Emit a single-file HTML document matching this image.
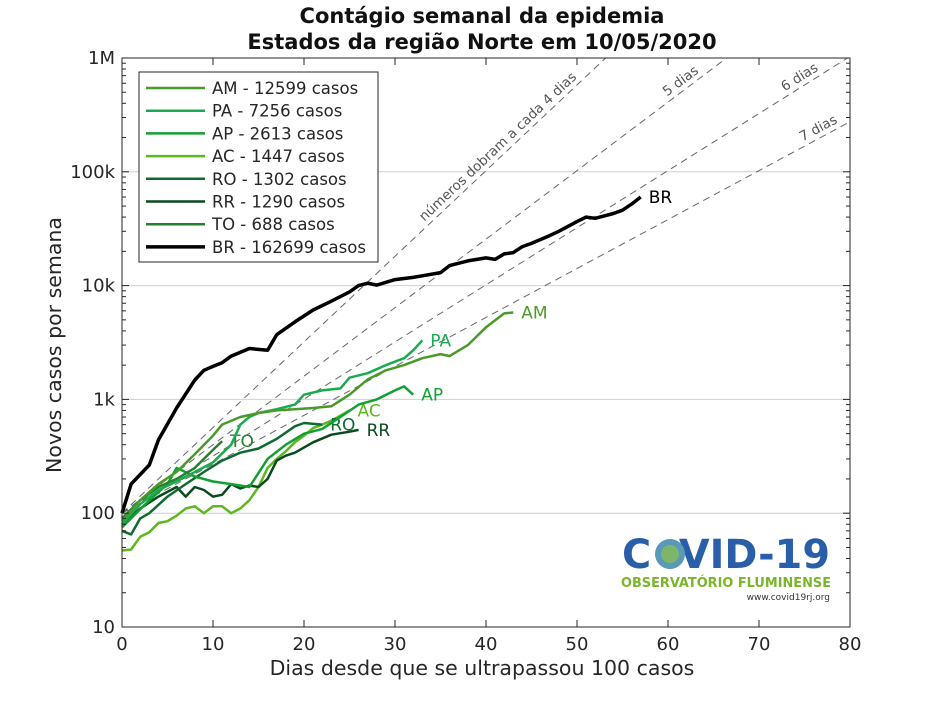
<!DOCTYPE html>
<html><head><meta charset="utf-8"><style>
body{margin:0;background:#fff;}
svg{display:block;font-family:"DejaVu Sans","Liberation Sans",sans-serif;}
</style></head><body>
<svg id="chart" width="938" height="703" viewBox="0 0 938 703">
<rect width="938" height="703" fill="#fff"/>
<text x="482" y="23" text-anchor="middle" font-size="21" font-weight="bold" fill="#111">Contágio semanal da epidemia</text>
<text x="482" y="49" text-anchor="middle" font-size="21" font-weight="bold" fill="#111">Estados da região Norte em 10/05/2020</text>
<g id="grid"></g>
<g id="refs"></g>
<g id="series"></g>
<g id="axes"></g>
<text x="482" y="675" text-anchor="middle" font-size="20.5" fill="#262626">Dias desde que se ultrapassou 100 casos</text>
<text transform="translate(61,345) rotate(-90)" text-anchor="middle" font-size="20.5" fill="#262626">Novos casos por semana</text>
<g>
<text x="622" y="568" font-size="40" font-weight="bold" fill="#2a5ea8" textLength="208" lengthAdjust="spacingAndGlyphs">C&#160;&#160;VID-19</text>
<circle cx="670" cy="554" r="15" fill="#5a9ab8"/>
<circle cx="670" cy="554" r="9" fill="#8cc04a" opacity="0.7"/>
<text x="726" y="587" text-anchor="middle" font-size="13.5" font-weight="bold" fill="#7ab52a" textLength="210" lengthAdjust="spacingAndGlyphs">OBSERVATÓRIO FLUMINENSE</text>
<text x="830" y="600" text-anchor="end" font-size="9" fill="#333">www.covid19rj.org</text>
</g>
<g id="legend"></g>
</svg>
<script>
const xTicks=[0,10,20,30,40,50,60,70,80];
const yTicks=[10,100,1000,10000,100000,1000000];
const yTickLabels=["10","100","1k","10k","100k","1M"];
const doublingDays=[4,5,6,7];
const doublingLabels=["números dobram a cada 4 dias","5 dias","6 dias","7 dias"];
const doublingLabelDay=[42,62,75,77];
const legendLabels=["AM - 12599 casos","PA - 7256 casos","AP - 2613 casos","AC - 1447 casos","RO - 1302 casos","RR - 1290 casos","TO - 688 casos","BR - 162699 casos"];
const seriesNames=["AM","PA","AP","AC","RO","RR","TO","BR"];
const amDays=[0,2,4,6,8,10,11,13,15,17,19,21,23,25,27,29,31,33,35,36,38,40,42,43];
const amVals=[85,130,180,230,330,480,600,700,760,800,820,840,870,1100,1500,1800,2000,2300,2500,2400,3000,4300,5700,5800];
const paDays=[0,2,4,6,8,10,12,13,14,15,17,19,20,22,24,25,27,29,31,32,33];
const paVals=[80,120,160,190,230,280,400,600,700,760,820,900,1100,1200,1250,1550,1700,2000,2300,2700,3300];
const apDays=[0,3,5,6,8,10,12,14,16,18,20,22,24,26,28,30,31,32];
const apVals=[75,130,180,250,210,190,180,170,300,400,500,550,700,900,1000,1200,1300,1100];
const acDays=[0,1,2,3,4,5,6,7,8,9,10,11,12,13,14,15,16,17,18,19,20,21,22,23,24,25];
const acVals=[47,48,62,68,82,85,95,110,115,100,115,115,100,110,130,170,250,300,350,420,480,560,600,650,720,800];
const roDays=[0,1,2,3,5,7,9,11,13,15,17,19,20,22];
const roVals=[70,65,90,100,140,180,230,290,340,370,450,580,620,600];
const rrDays=[0,2,4,6,7,8,9,10,11,12,13,14,15,16,17,18,19,21,23,25,26];
const rrVals=[80,110,140,170,140,170,160,140,145,180,165,175,170,200,290,320,340,420,490,520,540];
const toDays=[0,2,4,6,8,9,10,11];
const toVals=[90,130,170,200,250,300,360,430];
const brDays=[0,1,3,4,6,8,9,10,11,12,14,16,17,19,21,23,25,26,27,28,30,32,33,35,36,38,40,41,42,43,44,45,47,48,50,51,52,54,55,56,57];
const brVals=[100,180,265,440,840,1480,1800,1950,2100,2400,2800,2700,3700,4800,6100,7300,8800,10000,10500,10100,11300,11800,12200,13000,15000,16500,17500,17000,19000,19500,22000,23500,27500,30000,36500,40000,39000,43000,46000,52000,60000];

const X0=122,X1=850,Y0=627,Y1=58;
const xs=d=>X0+(d-0)/(80-0)*(X1-X0);
const ys=v=>Y0-(Math.log10(v)-1)/(6-1)*(Y0-Y1);
const NS="http://www.w3.org/2000/svg";
function mk(tag,attrs,parent){const e=document.createElementNS(NS,tag);for(const k in attrs)e.setAttribute(k,attrs[k]);parent.appendChild(e);return e;}
const grid=document.getElementById('grid'),axes=document.getElementById('axes'),refs=document.getElementById('refs'),sg=document.getElementById('series'),lg=document.getElementById('legend');

yTicks.forEach((v,i)=>{
  const l=mk('line',{x1:X0,x2:X1,y1:ys(v),y2:ys(v),stroke:'#d0d0d0','stroke-width':1},grid);
  
  
  const t=mk('text',{x:X0-7,y:ys(v)+6,'text-anchor':'end','font-size':18,fill:'#262626'},axes);
  t.textContent=yTickLabels[i];
  
  
});
for(let dec=1;dec<6;dec++){for(let m=2;m<10;m++){const v=m*Math.pow(10,dec);
  mk('line',{x1:X0,x2:X0+4,y1:ys(v),y2:ys(v),stroke:'#262626'},axes);
  mk('line',{x1:X1,x2:X1-4,y1:ys(v),y2:ys(v),stroke:'#262626'},axes);}}
yTicks.forEach(v=>{mk('line',{x1:X0,x2:X0+7,y1:ys(v),y2:ys(v),stroke:'#262626'},axes);mk('line',{x1:X1,x2:X1-7,y1:ys(v),y2:ys(v),stroke:'#262626'},axes);});
xTicks.forEach(d=>{
  mk('line',{x1:xs(d),x2:xs(d),y1:Y0,y2:Y0-7,stroke:'#262626'},axes);
  mk('line',{x1:xs(d),x2:xs(d),y1:Y1,y2:Y1+7,stroke:'#262626'},axes);
  const t=mk('text',{x:xs(d),y:Y0+23,'text-anchor':'middle','font-size':18,fill:'#262626'},axes);
  t.textContent=d;
  
  
});
mk('rect',{x:X0,y:Y1,width:X1-X0,height:Y0-Y1,fill:'none',stroke:'#262626','stroke-width':1},axes);

doublingDays.forEach((dd,i)=>{
  const dEnd=Math.min(80,dd*Math.log2(10000));
  const x2=xs(dEnd),y2=ys(100*Math.pow(2,dEnd/dd));
  const l=mk('line',{x1:xs(0),y1:ys(100),x2:x2,y2:y2,stroke:'#666','stroke-width':1,'stroke-dasharray':'7,5'},refs);
  
  
  const ang=Math.atan2(y2-ys(100),x2-xs(0))*180/Math.PI;
  const ld=doublingLabelDay[i];
  const lx=xs(ld), ly=ys(100*Math.pow(2,ld/dd));
  const t=mk('text',{x:lx,y:ly-5,'text-anchor':'middle','font-size':13.5,fill:'#555',transform:'rotate('+ang+' '+lx+' '+ly+')'},refs);
  t.textContent=doublingLabels[i];
  
  
});

const allDays=[amDays,paDays,apDays,acDays,roDays,rrDays,toDays,brDays];
const allVals=[amVals,paVals,apVals,acVals,roVals,rrVals,toVals,brVals];
const colors=["#4a9a2a","#1aab4f","#12a032","#5cb81c","#0e6b30","#0a4a1e","#26802f","#000"];
const widths=[2.5,2.5,2.5,2.5,2.5,2.5,2.5,3.5];
const order=[3,5,4,2,6,1,0,7];
order.forEach(i=>{
  const d=allDays[i].map((x,j)=>(j?'L':'M')+xs(x).toFixed(1)+','+ys(allVals[i][j]).toFixed(1)).join(' ');
  const p=mk('path',{d:d,fill:'none',stroke:colors[i],'stroke-width':widths[i],'stroke-linejoin':'round'},sg);
  
  
  const n=allDays[i].length;
  const t=mk('text',{x:xs(allDays[i][n-1])+8,y:ys(allVals[i][n-1])+6,'font-size':17,fill:colors[i]},sg);
  t.textContent=seriesNames[i];
  
  
});

const bg=mk('rect',{x:139,y:72,width:239,height:190,fill:'#fff',stroke:'#262626','stroke-width':1},lg);


legendLabels.forEach((lab,i)=>{
  const y=88+i*22.7;
  const l=mk('line',{x1:146,x2:205,y1:y,y2:y,stroke:colors[i],'stroke-width':widths[i]},lg);
  
  
  const t=mk('text',{x:212,y:y+6,'font-size':16.5,fill:'#262626'},lg);
  t.textContent=lab;
  
  
});
</script>
</body></html>
